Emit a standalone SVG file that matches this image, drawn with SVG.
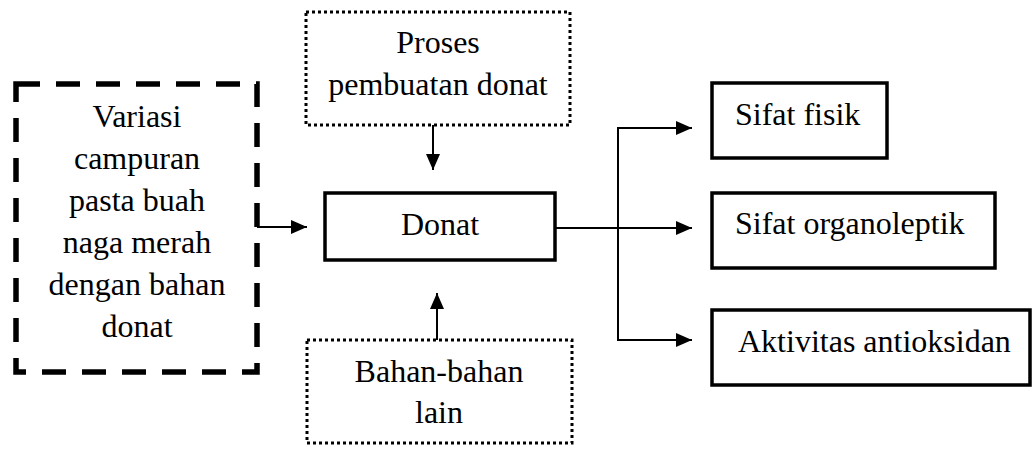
<svg xmlns="http://www.w3.org/2000/svg" width="1033" height="455" viewBox="0 0 1033 455">
<style>
text{font-family:'Liberation Serif','DejaVu Serif',serif;font-size:32px;fill:#000}
.c{text-anchor:middle}
.solid{fill:#fff;stroke:#000;stroke-width:3.5}
.dot{fill:#fff;stroke:#000;stroke-width:3;stroke-dasharray:3 3}
.dash{fill:#fff;stroke:#000;stroke-width:5.5;stroke-dasharray:24 16}
.ln{fill:none;stroke:#000;stroke-width:2}
</style>
<defs>
<marker id="ah" markerUnits="userSpaceOnUse" markerWidth="16" markerHeight="14" refX="16" refY="7" orient="auto">
<path d="M0,0 L16,7 L0,14 Z" fill="#000"/>
</marker>
</defs>
<rect width="1033" height="455" fill="#fff"/>
<g id="connectors">
<line class="ln" x1="257" y1="227" x2="307" y2="227" marker-end="url(#ah)"/>
<line class="ln" x1="433" y1="125" x2="433" y2="170" marker-end="url(#ah)"/>
<line class="ln" x1="437" y1="340" x2="437" y2="293" marker-end="url(#ah)"/>
<line class="ln" x1="555" y1="228" x2="692" y2="228" marker-end="url(#ah)"/>
<polyline class="ln" points="692,128 618,128 618,340 692,340" marker-end="url(#ah)"/>
<line class="ln" x1="618" y1="128" x2="692" y2="128" marker-end="url(#ah)"/>
</g>
<g id="variasi">
<rect class="dash" x="16" y="84" width="241" height="288"/>
<text class="c" x="137" y="127" font-family="Liberation Serif">Variasi</text>
<text class="c" x="137" y="169">campuran</text>
<text class="c" x="137" y="211">pasta buah</text>
<text class="c" x="137" y="253">naga merah</text>
<text class="c" x="137" y="295">dengan bahan</text>
<text class="c" x="137" y="337">donat</text>
</g>
<g id="proses">
<rect class="dot" x="306" y="12" width="264" height="113"/>
<text class="c" x="438" y="53">Proses</text>
<text class="c" x="438" y="95">pembuatan donat</text>
</g>
<g id="donat">
<rect class="solid" x="325" y="193" width="230" height="67"/>
<text class="c" x="440" y="235">Donat</text>
</g>
<g id="bahan">
<rect class="dot" x="307" y="340" width="265" height="103"/>
<text class="c" x="439" y="382">Bahan-bahan</text>
<text class="c" x="439" y="423">lain</text>
</g>
<g id="fisik">
<rect class="solid" x="712" y="83" width="175" height="75"/>
<text x="735" y="125">Sifat fisik</text>
</g>
<g id="organoleptik">
<rect class="solid" x="712" y="193" width="283" height="75"/>
<text x="735" y="234">Sifat organoleptik</text>
</g>
<g id="antioksidan">
<rect class="solid" x="712" y="310" width="318" height="75"/>
<text x="738" y="352">Aktivitas antioksidan</text>
</g>
</svg>
